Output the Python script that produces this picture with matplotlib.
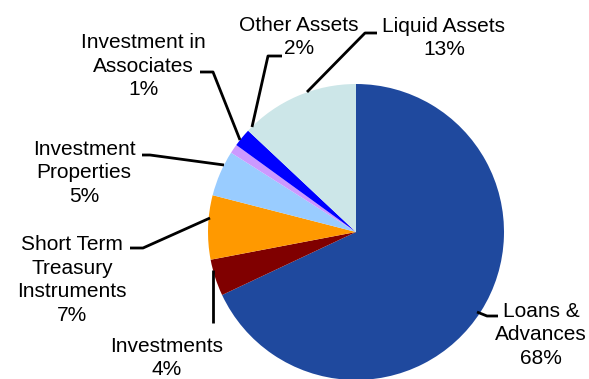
import matplotlib.pyplot as plt

plt.rcParams['font.family'] = ['Liberation Sans', 'DejaVu Sans']

# Asset mix (percent of total), clockwise from 12 o'clock
categories = ['Loans &\nAdvances', 'Investments', 'Short Term\nTreasury\nInstruments',
              'Investment\nProperties', 'Investment in\nAssociates', 'Other Assets',
              'Liquid Assets']
shares = [68, 4, 7, 5, 1, 2, 13]
colors = ['#1F499E', '#800000', '#FF9900', '#99CCFF', '#CC99FF', '#0000FF', '#CCE6E8']

W, H = 589, 379

# label block centre and leader polyline for each slice (pixel space, y down)
label_pos = [(541, 335), (167, 358), (72, 280), (84, 173), (143, 66), (299, 37), (444, 38)]
leaders = [
    [(477, 312), (487, 316), (498, 316)],
    [(213, 270), (213, 323)],
    [(210, 218), (143, 248), (130, 248)],
    [(224, 165), (150, 155), (142, 155)],
    [(240, 140), (213, 72), (200, 72)],
    [(252, 127), (268, 56), (282, 56)],
    [(307, 92), (365, 33), (377, 33)],
]

fig = plt.figure(figsize=(W / 100, H / 100), dpi=100)
ax = fig.add_axes([0, 0, 1, 1])

ax.pie(shares, colors=colors, startangle=90, counterclock=False,
       center=(356, H - 232), radius=148, frame=True,
       wedgeprops=dict(linewidth=0))
ax.set_xlim(0, W)
ax.set_ylim(0, H)
ax.set_aspect('equal')
ax.axis('off')

for name, share, (tx, ty), pts in zip(categories, shares, label_pos, leaders):
    ax.text(tx, H - ty, f"{name}\n{share}%", ha='center', va='center',
            fontsize=15, linespacing=1.3, color='black')
    xs = [p[0] for p in pts]
    ys = [H - p[1] for p in pts]
    ax.plot(xs, ys, color='black', linewidth=2, solid_capstyle='butt')

fig.savefig('out.png', dpi=100)
